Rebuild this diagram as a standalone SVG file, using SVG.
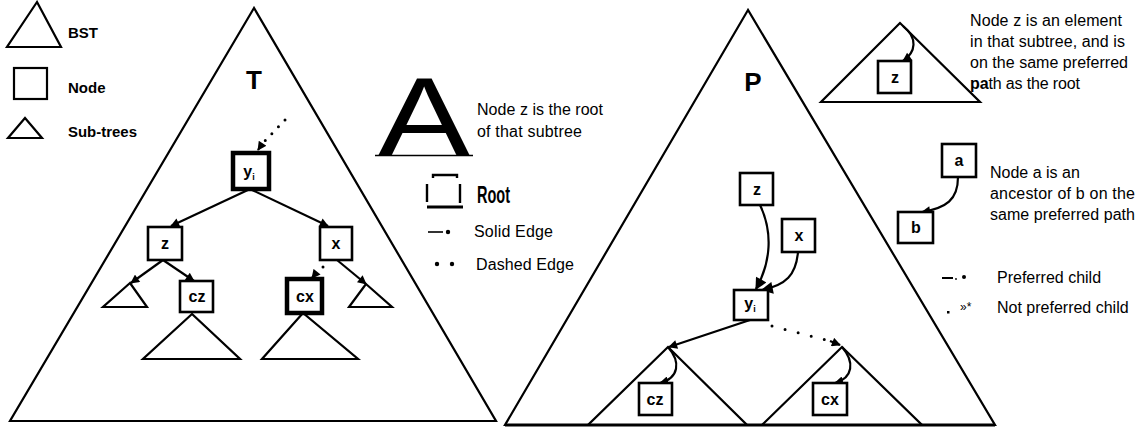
<svg xmlns="http://www.w3.org/2000/svg" width="1138" height="432" viewBox="0 0 1138 432">
<style>
  .tri{fill:none;stroke:#000;stroke-width:2.2;stroke-linejoin:miter}
  .box{fill:#fff;stroke:#000;stroke-width:2.6}
  .bold{fill:#fff;stroke:#000;stroke-width:4.5}
  .edge{fill:none;stroke:#000;stroke-width:2.2}
  .dot{fill:none;stroke:#000;stroke-width:3;stroke-linecap:round}
  .lbl{font-family:"Liberation Sans",Arial,sans-serif;font-weight:bold;font-size:15px;fill:#000}
  .nl{font-family:"Liberation Sans",Arial,sans-serif;font-weight:bold;font-size:16px;fill:#000;text-anchor:middle}
  .txt{font-family:"Liberation Sans",Arial,sans-serif;font-size:16px;fill:#000}
  .big{font-family:"Liberation Sans",Arial,sans-serif;font-weight:bold;font-size:26px;fill:#000;text-anchor:middle}
</style>
<defs>
  <marker id="ah" viewBox="0 0 10 10" refX="9" refY="5" markerWidth="10" markerHeight="9" markerUnits="userSpaceOnUse" orient="auto">
    <path d="M0,0 L10,5 L0,10 z" fill="#000"/>
  </marker>
  <marker id="ahb" viewBox="0 0 10 10" refX="9" refY="5" markerWidth="13" markerHeight="12" markerUnits="userSpaceOnUse" orient="auto">
    <path d="M0,0 L10,5 L0,10 z" fill="#000"/>
  </marker>
</defs>
<rect width="1138" height="432" fill="#fff"/>

<!-- Legend left -->
<g id="legend-left">
  <polygon class="tri" points="37,2 7,47 61,47"/>
  <text class="lbl" x="68" y="38">BST</text>
  <rect x="14" y="68" width="33" height="31" fill="none" stroke="#000" stroke-width="2.2"/>
  <text class="lbl" x="68" y="93">Node</text>
  <polygon class="tri" points="25,118 8,138 42,138" stroke-width="2.6"/>
  <text class="lbl" x="68" y="137" textLength="69" lengthAdjust="spacingAndGlyphs">Sub-trees</text>
</g>

<!-- Tree T -->
<g id="tree-T">
  <polygon class="tri" points="254,8 10,421 496,421"/>
  <text class="big" x="254" y="89">T</text>
</g>
<g id="T-sub-left"><polygon class="tri" points="130,283 103,307 147,307"/></g>
<g id="T-sub-right"><polygon class="tri" points="366,284 349,307 392,307"/></g>
<g id="T-sub-cz"><polygon class="tri" points="192,314 143,359 240,359"/></g>
<g id="T-sub-cx"><polygon class="tri" points="303,313 262,359 358,359"/></g>

<!-- Legend middle -->
<g id="legend-A">
  <text x="378" y="155" font-family="'Liberation Sans',Arial,sans-serif" font-size="112" textLength="92" lengthAdjust="spacingAndGlyphs">A</text>
  <line x1="375" y1="155.5" x2="473" y2="155.5" stroke="#000" stroke-width="1.6"/>
  <text class="txt" x="477" y="115" textLength="126" lengthAdjust="spacing">Node z is the root</text>
  <text class="txt" x="477" y="137" textLength="105" lengthAdjust="spacing">of that subtree</text>
</g>
<g id="legend-root">
  <path d="M433,178 V175 H457 V178" fill="none" stroke="#000" stroke-width="2.4"/>
  <path d="M427,184 V202 M460,184 V203" fill="none" stroke="#000" stroke-width="2.4"/>
  <path d="M427,207 H463" fill="none" stroke="#000" stroke-width="3.2"/>
  <text x="477" y="203" font-family="'Liberation Sans',Arial,sans-serif" font-size="24" font-weight="bold" textLength="33" lengthAdjust="spacingAndGlyphs">Root</text>
</g>
<g id="legend-edges">
  <line x1="428" y1="232" x2="443" y2="232" stroke="#000" stroke-width="1.6"/>
  <circle cx="448" cy="232" r="2.2"/>
  <text class="txt" x="474" y="237" textLength="79" lengthAdjust="spacing">Solid Edge</text>
  <circle cx="437" cy="264" r="2.2"/>
  <circle cx="452" cy="264" r="2.2"/>
  <text class="txt" x="476" y="270" textLength="98" lengthAdjust="spacing">Dashed Edge</text>
</g>

<!-- Tree P -->
<g id="tree-P">
  <polygon class="tri" points="748,10 505,425 995,425"/>
  <line x1="505" y1="425" x2="995" y2="425" stroke="#000" stroke-width="3"/>
  <text class="big" x="753" y="91">P</text>
</g>
<g id="P-sub-left"><polygon class="tri" points="668,347 588,425 747,425"/></g>
<g id="P-sub-right"><polygon class="tri" points="842,347 762,425 922,425"/></g>

<!-- Top-right example -->
<g id="ex-subtree"><polygon class="tri" points="900,23 821,102 980,102"/></g>
<g id="ex-text">
  <text class="txt" x="970" y="26" textLength="152" lengthAdjust="spacing">Node z is an element</text>
  <text class="txt" x="970" y="47" textLength="155" lengthAdjust="spacing">in that subtree, and is</text>
  <text class="txt" x="970" y="68" textLength="158" lengthAdjust="spacing">on the same preferred</text>
  <text class="txt" x="970" y="89" textLength="110" lengthAdjust="spacing"><tspan font-weight="bold">pa</tspan>th as the root</text>
  <text class="txt" x="990" y="178">Node a is an</text>
  <text class="txt" x="990" y="199" textLength="145" lengthAdjust="spacing">ancestor of b on the</text>
  <text class="txt" x="990" y="220" textLength="145" lengthAdjust="spacing">same preferred path</text>
</g>
<g id="legend-pref">
  <line x1="942" y1="278" x2="953" y2="278" stroke="#000" stroke-width="2"/>
  <circle cx="956" cy="279" r="0.9"/>
  <circle cx="964" cy="277" r="2"/>
  <text class="txt" x="997" y="283">Preferred child</text>
  <rect x="947" y="311" width="2.5" height="2.5"/>
  <text x="960" y="311" font-family="'Liberation Sans',Arial,sans-serif" font-size="12">»*</text>
  <text class="txt" x="997" y="313">Not preferred child</text>
</g>

<!-- Connectors -->
<g id="connectors">
  <!-- T -->
  <path class="dot" d="M285,120 L262,144" stroke-dasharray="0 9.5"/>
  <path class="edge" d="M262,144 L258,150" marker-end="url(#ah)"/>
  <path class="edge" d="M250,189 L171,226" marker-end="url(#ah)"/>
  <path class="edge" d="M250,189 L328,226" marker-end="url(#ah)"/>
  <path class="edge" d="M163,260 L131,283" marker-end="url(#ah)"/>
  <path class="edge" d="M163,260 L194,281" marker-end="url(#ah)"/>
  <path class="edge" d="M337,260 L366,284" marker-end="url(#ah)"/>
  <circle cx="323" cy="267" r="1.5"/>
  <path class="edge" d="M316,273 L312,278" marker-end="url(#ah)"/>
  <!-- P -->
  <path class="edge" d="M760,205 C773,232 771,262 756,289" marker-end="url(#ahb)"/>
  <path class="edge" d="M798,252 C796,275 786,285 762,290" marker-end="url(#ahb)"/>
  <path class="edge" d="M750,320 L669,347" marker-end="url(#ah)"/>
  <path class="dot" d="M772,326 L826,340" stroke-dasharray="0 13.5"/>
  <path class="edge" d="M830,341 L840,345" marker-end="url(#ah)"/>
  <path class="edge" d="M668,347 C681,362 679,378 660,383" marker-end="url(#ah)"/>
  <path class="edge" d="M842,347 C855,362 853,378 835,383" marker-end="url(#ah)"/>
  <!-- examples -->
  <path class="edge" d="M903,26 C918,38 916,52 903,61" marker-end="url(#ah)"/>
  <path class="edge" d="M958,177 C958,200 946,208 922,212" marker-end="url(#ah)"/>
</g>

<!-- Nodes T -->
<g id="T-yi">
  <rect class="bold" x="233" y="153" width="36" height="36"/>
  <text class="nl" x="249" y="177">y<tspan font-size="9" dy="3">i</tspan></text>
</g>
<g id="T-z">
  <rect class="box" x="148" y="227" width="34" height="33"/>
  <text class="nl" x="165" y="249">z</text>
</g>
<g id="T-x">
  <rect class="box" x="320" y="227" width="32" height="33"/>
  <text class="nl" x="336" y="249">x</text>
</g>
<g id="T-cz">
  <rect class="box" x="180" y="281" width="33" height="31"/>
  <text class="nl" x="197" y="302">cz</text>
</g>
<g id="T-cx">
  <rect class="bold" x="287" y="279" width="35" height="34"/>
  <text class="nl" x="305" y="302">cx</text>
</g>

<!-- Nodes P -->
<g id="P-z">
  <rect class="box" x="740" y="173" width="33" height="32"/>
  <text class="nl" x="757" y="195">z</text>
</g>
<g id="P-x">
  <rect class="box" x="782" y="219" width="33" height="33"/>
  <text class="nl" x="799" y="241">x</text>
</g>
<g id="P-yi">
  <rect class="box" x="734" y="290" width="34" height="30"/>
  <text class="nl" x="750" y="309">y<tspan font-size="9" dy="3">i</tspan></text>
</g>
<g id="P-cz">
  <rect class="box" x="639" y="383" width="33" height="32"/>
  <text class="nl" x="655" y="405">cz</text>
</g>
<g id="P-cx">
  <rect class="box" x="813" y="383" width="34" height="32"/>
  <text class="nl" x="830" y="405">cx</text>
</g>

<!-- Example nodes -->
<g id="ex-z">
  <rect class="box" x="878" y="61" width="33" height="32"/>
  <text class="nl" x="895" y="83">z</text>
</g>
<g id="ex-a">
  <rect class="box" x="942" y="144" width="34" height="33"/>
  <text class="nl" x="959" y="166">a</text>
</g>
<g id="ex-b">
  <rect class="box" x="898" y="212" width="35" height="31"/>
  <text class="nl" x="916" y="233">b</text>
</g>
</svg>
